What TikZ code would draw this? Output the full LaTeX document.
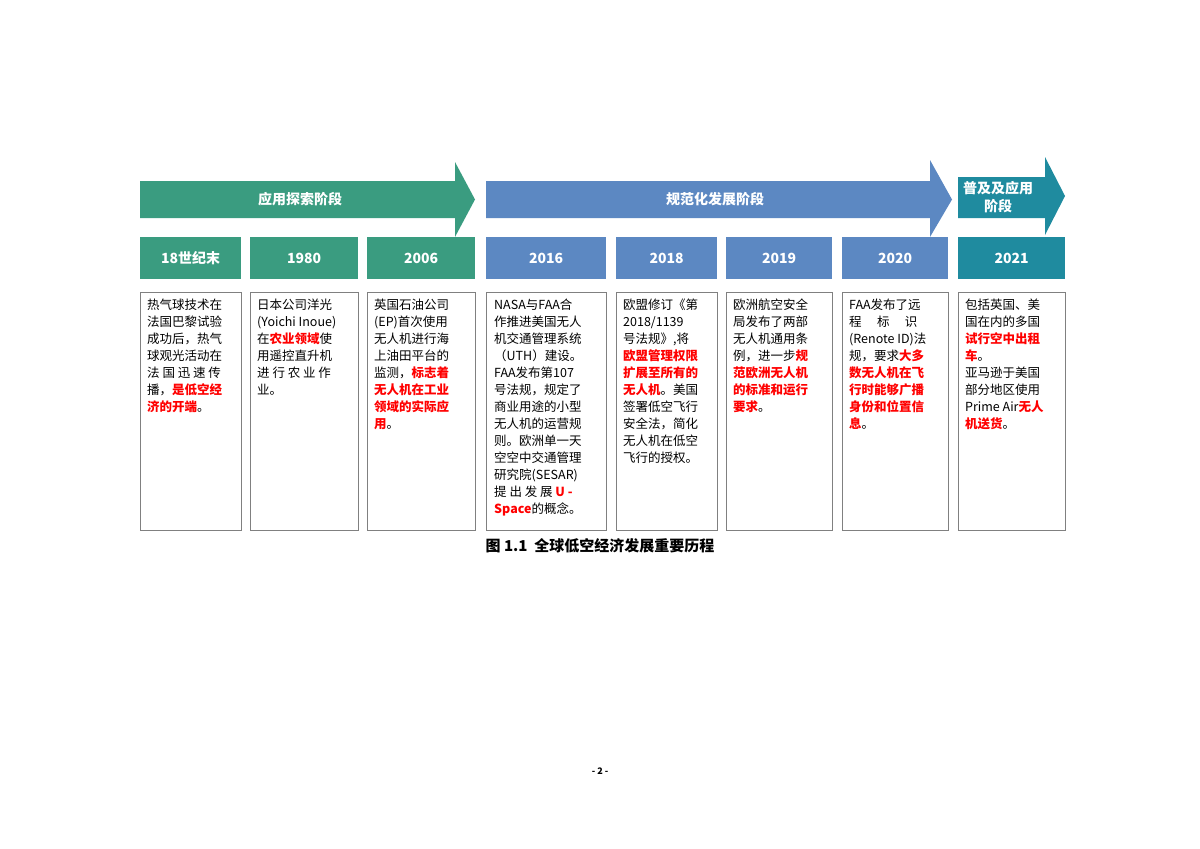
\documentclass[tikz,border=0pt]{standalone}
\usepackage{fontspec}
\setmainfont{Noto Sans CJK SC}
\definecolor{cg}{HTML}{3A9C80}
\definecolor{cb}{HTML}{5C88C2}
\definecolor{ct}{HTML}{1F8B9F}
\newcommand{\hl}[1]{\textcolor{red}{\bfseries #1}}
\begin{document}
\begin{tikzpicture}[x=1pt,y=-1pt,
 yr/.style={minimum height=42pt,inner sep=0pt,anchor=north west,text=white,font=\fontsize{14}{16}\selectfont\bfseries},
 tb/.style={draw=black!50,line width=0.8pt,minimum height=238pt,inner sep=0pt,anchor=north west},
 tx/.style={anchor=north west,align=left,inner sep=0pt,font=\fontsize{12.5}{17}\selectfont},
 ar/.style={text=white,font=\fontsize{14}{16}\selectfont\bfseries}]
\useasboundingbox (0,0) rectangle (1200,849);
\fill[white] (0,0) rectangle (1200,849);
% arrows
\fill[cg] (140,181) -- (455,181) -- (455,162) -- (475,199.5) -- (455,237) -- (455,218) -- (140,218) -- cycle;
\node[ar] (a1) at (300,199.5) {应用探索阶段};
\fill[cb] (486,181) -- (930,181) -- (930,160) -- (952,199.5) -- (930,237) -- (930,218) -- (486,218) -- cycle;
\node[ar] (a2) at (715,199.5) {规范化发展阶段};
\fill[ct] (958,177) -- (1045,177) -- (1045,157) -- (1065,196) -- (1045,235) -- (1045,218) -- (958,218) -- cycle;
\node[ar,align=center,font=\fontsize{14}{18}\selectfont\bfseries] (a3) at (998,197.5) {普及及应用\\阶段};
% year boxes
\foreach \n/\x/\w/\c/\t in {y1/140/101/cg/18世纪末,y2/250/108/cg/1980,y3/367/108/cg/2006,y4/486/120/cb/2016,y5/616/101/cb/2018,y6/726/106/cb/2019,y7/842/106/cb/2020,y8/958/107/ct/2021}{
 \node[yr,fill=\c,minimum width=\w pt] (\n) at (\x,237) {\t};
 \node[tb,minimum width=\w pt] (b\n) at (\x,292) {};
}
\node[tx] (t1) at (147,299) {热气球技术在\\法国巴黎试验\\成功后，热气\\球观光活动在\\法 国 迅 速 传\\播，\hl{是低空经}\\\hl{济的开端}。};
\node[tx] (t2) at (257,299) {日本公司洋光\\(Yoichi Inoue)\\在\hl{农业领域}使\\用遥控直升机\\进 行 农 业 作\\业。};
\node[tx] (t3) at (374,299) {英国石油公司\\(EP)首次使用\\无人机进行海\\上油田平台的\\监测，\hl{标志着}\\\hl{无人机在工业}\\\hl{领域的实际应}\\\hl{用}。};
\node[tx] (t4) at (494,299) {NASA与FAA合\\作推进美国无人\\机交通管理系统\\（UTH）建设。\\FAA发布第107\\号法规，规定了\\商业用途的小型\\无人机的运营规\\则。欧洲单一天\\空空中交通管理\\研究院(SESAR)\\提 出 发 展 \hl{U -}\\\hl{Space}的概念。};
\node[tx] (t5) at (623,299) {欧盟修订《第\\2018/1139\\号法规》,将\\\hl{欧盟管理权限}\\\hl{扩展至所有的}\\\hl{无人机}。美国\\签署低空飞行\\安全法，简化\\无人机在低空\\飞行的授权。};
\node[tx] (t6) at (733,299) {欧洲航空安全\\局发布了两部\\无人机通用条\\例，进一步\hl{规}\\\hl{范欧洲无人机}\\\hl{的标准和运行}\\\hl{要求}。};
\node[tx] (t7) at (849,299) {FAA发布了远\\程\quad\ 标\quad\ 识\\(Renote ID)法\\规，要求\hl{大多}\\\hl{数无人机在飞}\\\hl{行时能够广播}\\\hl{身份和位置信}\\\hl{息}。};
\node[tx] (t8) at (965,299) {包括英国、美\\国在内的多国\\\hl{试行空中出租}\\\hl{车}。\\亚马逊于美国\\部分地区使用\\Prime Air\hl{无人}\\\hl{机送货}。};
\node[font=\fontsize{15}{18}\selectfont\bfseries] (cap) at (600,546) {图 1.1\ \ 全球低空经济发展重要历程};
\node[font=\fontsize{9}{10}\selectfont\bfseries] (pg) at (600,771) {- 2 -};
\end{tikzpicture}
\end{document}
